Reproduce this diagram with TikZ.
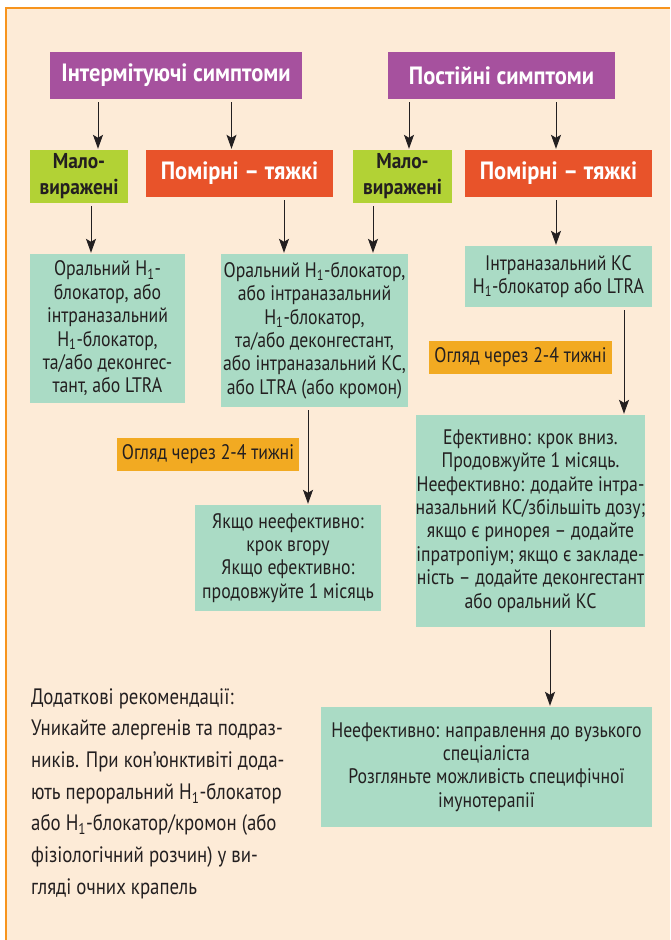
\documentclass[tikz,border=0pt]{standalone}
\usepackage{fontspec}
\setmainfont[FakeStretch=0.845]{PT Sans}
\newfontfamily\hdrfont[FakeStretch=0.9]{PT Sans}
\usetikzlibrary{arrows.meta}
\definecolor{peach}{HTML}{FDEBD7}
\definecolor{frame}{HTML}{F7941D}
\definecolor{purp}{HTML}{A6519E}
\definecolor{lime}{HTML}{B2D235}
\definecolor{redor}{HTML}{E8532A}
\definecolor{teal}{HTML}{AADBC5}
\definecolor{ambr}{HTML}{F2AA22}
\definecolor{txt}{HTML}{231F20}
\tikzset{
  boxbase/.style={inner sep=0pt, align=center, text=txt},
  hdr/.style={boxbase, text=white, font=\hdrfont\fontsize{25}{28}\selectfont\bfseries},
  mild/.style={boxbase, fill=lime, font=\hdrfont\fontsize{21.5}{26}\selectfont\bfseries},
  body/.style={boxbase, fill=teal, font=\fontsize{21}{23.4}\selectfont},
  tag/.style={boxbase, fill=ambr, font=\fontsize{21}{23.4}\selectfont},
  arr/.style={-{Stealth[length=14pt,width=10pt,inset=3pt]}, line width=1pt, draw=txt, shorten <=3pt, shorten >=1pt}
}
\newcommand{\Hone}{H\textsubscript{1}}
\begin{document}
\begin{tikzpicture}[x=1pt,y=-1pt]
\useasboundingbox (0,0) rectangle (670,940);
\fill[white] (0,0) rectangle (670,940);
\fill[peach] (5,7) rectangle (670,940);
\draw[frame, line width=2.5pt] (6,940) -- (6,8) -- (670,8);

% headers
\node[hdr, fill=purp, minimum width=252pt, minimum height=47pt] (P1) at (176,75.5) {Інтермітуючі симптоми};
\node[hdr, fill=purp, minimum width=227pt, minimum height=47pt] (P2) at (501.5,75.5) {Постійні симптоми};

% severity
\node[mild, minimum width=98pt, minimum height=53pt] (L1) at (79,176.5) {Мало-\\виражені};
\node[hdr, fill=redor, minimum width=187pt, minimum height=47pt] (R1) at (239.5,173.5) {Помірні – тяжкі};
\node[mild, minimum width=99pt, minimum height=53pt] (L2) at (402.5,176.5) {Мало-\\виражені};
\node[hdr, fill=redor, minimum width=187pt, minimum height=47pt] (R2) at (558.5,173.5) {Помірні – тяжкі};

% treatments
\node[body, minimum width=155pt, minimum height=149pt] (T1) at (107.5,328.5) {Оральний \Hone-\\блокатор, або\\інтраназальний\\\Hone-блокатор,\\та/або деконгес-\\тант, або LTRA};
\node[body, minimum width=187pt, minimum height=153pt] (T2) at (314.5,330.5) {Оральний \Hone-блокатор,\\або інтраназальний\\\Hone-блокатор,\\та/або деконгестант,\\або інтраназальний КС,\\або LTRA (або кромон)};
\node[body, minimum width=187pt, minimum height=61pt] (T3) at (558.5,276.5) {Інтраназальний КС\\\Hone-блокатор або LTRA};

% review tags
\node[tag, minimum width=183pt, minimum height=33pt] (O1) at (520.5,357.5) {Огляд через 2-4 тижні};
\node[tag, minimum width=182pt, minimum height=33pt] (O2) at (208,454.5) {Огляд через 2-4 тижні};

% outcomes
\node[body, minimum width=186pt, minimum height=106pt] (T4) at (288,558) {Якщо неефективно:\\крок вгору\\Якщо ефективно:\\продовжуйте 1 місяць};
\node[body, minimum width=225pt, minimum height=212pt] (T5) at (530.5,521) {Ефективно: крок вниз.\\Продовжуйте 1 місяць.\\Неефективно: додайте інтра-\\назальний КС/збільшіть дозу;\\якщо є ринорея – додайте\\іпратропіум; якщо є закладе-\\ність – додайте деконгестант\\або оральний КС};
\node[body, minimum width=331pt, minimum height=120pt] (T6) at (486.5,767) {Неефективно: направлення до вузького\\спеціаліста\\Розгляньте можливість специфічної\\імунотерапії};

% note
\node[boxbase, anchor=north west, align=left, font=\fontsize{22.3}{31.7}\selectfont] (N) at (31,688) {Додаткові рекомендації:\\Уникайте алергенів та подраз-\\ників. При кон'юнктивіті дода-\\ють пероральний \Hone-блокатор\\або \Hone-блокатор/кромон (або\\фізіологічний розчин) у ви-\\гляді очних крапель};

% arrow columns
\coordinate (xa) at (98,0);
\coordinate (xb) at (231.5,0);
\coordinate (xc) at (409,0);
\coordinate (xd) at (556,0);
\coordinate (xe) at (91,0);
\coordinate (xf) at (284,0);
\coordinate (xg) at (373,0);
\coordinate (xh) at (624,0);
\coordinate (xi) at (308,0);
\coordinate (xj) at (550,0);

\draw[arr] (P1.south -| xa) -- (L1.north -| xa);
\draw[arr] (P1.south -| xb) -- (R1.north -| xb);
\draw[arr] (P2.south -| xc) -- (L2.north -| xc);
\draw[arr] (P2.south -| xd) -- (R2.north -| xd);
\draw[arr] (L1.south -| xe) -- (T1.north -| xe);
\draw[arr] (R1.south -| xf) -- (T2.north -| xf);
\draw[arr] (L2.south -| xg) -- (T2.north -| xg);
\draw[arr] (R2.south -| xd) -- (T3.north -| xd);
\draw[arr] (T3.south -| xh) -- (T5.north -| xh);
\draw[arr] (T2.south -| xi) -- (T4.north -| xi);
\draw[arr] (T5.south -| xj) -- (T6.north -| xj);
\end{tikzpicture}
\end{document}
